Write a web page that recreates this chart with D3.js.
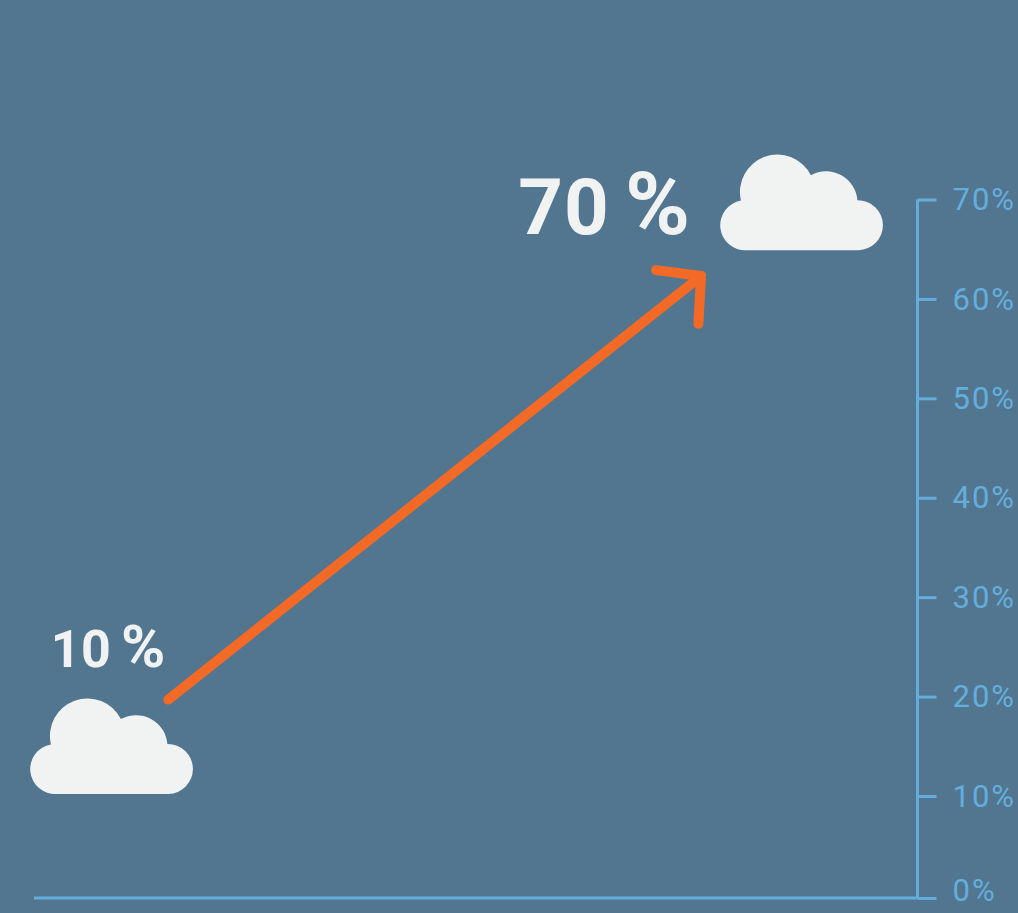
<!DOCTYPE html>
<html>
<head>
<meta charset="utf-8">
<script src="https://cdn.jsdelivr.net/npm/d3@7"></script>
<style>
  html, body { margin: 0; padding: 0; background: #527690; overflow: hidden; }
  svg { display: block; }
  text { font-family: Roboto, sans-serif; }
</style>
</head>
<body>
<div id="chart"></div>
<script>
var width = 1018;
var height = 913;

// values
var axisTicks = [0, 10, 20, 30, 40, 50, 60, 70];
var cloudValues = [10, 70];
var cloudX = [-0.35, 77.75];     // left edge of each cloud, % of the chart width
var cloudBase = [10.2, 64.9];    // bottom of each cloud on the percent axis
var labelX = [1.9, 54.8];
var labelY = [23.0, 66.5];
var arrowX = [15.2, 75.5];
var arrowY = [19.7, 62.3];
var headX = [70.4, 75.5, 75.2];
var headY = [62.9, 62.3, 57.5];

var xScale = d3.scaleLinear().domain([0, 100]).range([34, 917.5]);
// the first step of the printed axis is a little taller than the others
var yScale = d3.scaleLinear().domain([0, 10, 70]).range([898, 796, 199.5]);

var axisColor = "#64aedd";
var cloudColor = "#f1f3f3";
var arrowColor = "#f36a26";

var svg = d3.select("#chart").append("svg")
    .attr("width", width)
    .attr("height", height);

svg.append("rect")
    .attr("width", width)
    .attr("height", height)
    .attr("fill", "#527690");

// percent axis on the right
var yAxis = d3.axisRight(yScale)
    .tickValues(axisTicks)
    .tickSize(19)
    .tickPadding(16)
    .tickFormat(function(d) { return d + "%"; });

var axisG = svg.append("g")
    .attr("transform", "translate(" + xScale(100) + ",0)")
    .call(yAxis);

axisG.select(".domain")
    .attr("stroke", axisColor)
    .attr("stroke-width", 3)
    .attr("d", "M0," + yScale(70) + "V" + yScale(0));

axisG.selectAll(".tick line")
    .attr("stroke", axisColor)
    .attr("stroke-width", 3);

axisG.selectAll(".tick text")
    .attr("fill", axisColor)
    .style("font-size", "31px")
    .style("letter-spacing", "2px")
    .attr("dy", function(d) { return d === 0 ? "0.08em" : "0.33em"; });

// baseline
svg.append("line")
    .attr("x1", xScale(0))
    .attr("x2", xScale(100))
    .attr("y1", yScale(0))
    .attr("y2", yScale(0))
    .attr("stroke", axisColor)
    .attr("stroke-width", 3);

// clouds, origin at the bottom left corner
var cloudPath = "M25.5,0 A25,25 0 0 1 20,-49.6 A37.5,37.5 0 0 1 90,-75" +
    " A31.5,31.5 0 0 1 136.5,-50 A25,25 0 0 1 137.5,0 Z";

svg.selectAll(".cloud")
    .data(cloudX)
    .enter()
    .append("path")
    .attr("class", "cloud")
    .attr("d", cloudPath)
    .attr("fill", cloudColor)
    .attr("transform", function(d, i) {
        return "translate(" + xScale(d) + "," + yScale(cloudBase[i]) + ")";
    });

var labels = svg.selectAll(".cloudLabel")
    .data(cloudValues)
    .enter()
    .append("text")
    .attr("class", "cloudLabel")
    .attr("x", function(d, i) { return xScale(labelX[i]); })
    .attr("y", function(d, i) { return yScale(labelY[i]); })
    .attr("fill", cloudColor)
    .style("font-weight", 700)
    .style("font-size", function(d, i) { return i === 0 ? "52px" : "78px"; })
    .style("letter-spacing", function(d, i) { return i === 0 ? "0.5px" : "1px"; })
    .text(function(d) { return d + " "; });

// the percent sign is drawn bigger than the digits
labels.append("tspan")
    .attr("dx", function(d, i) { return i === 0 ? -4 : -5; })
    .style("font-size", function(d, i) { return i === 0 ? "60px" : "88px"; })
    .text("%");

// arrow
var line = d3.line()
    .x(function(d) { return xScale(d[0]); })
    .y(function(d) { return yScale(d[1]); });

svg.append("path")
    .attr("d", line(d3.zip(arrowX, arrowY)))
    .attr("fill", "none")
    .attr("stroke", arrowColor)
    .attr("stroke-width", 10)
    .attr("stroke-linecap", "round");

svg.append("path")
    .attr("d", line(d3.zip(headX, headY)))
    .attr("fill", "none")
    .attr("stroke", arrowColor)
    .attr("stroke-width", 10)
    .attr("stroke-linecap", "round")
    .attr("stroke-linejoin", "round");
</script>
</body>
</html>
